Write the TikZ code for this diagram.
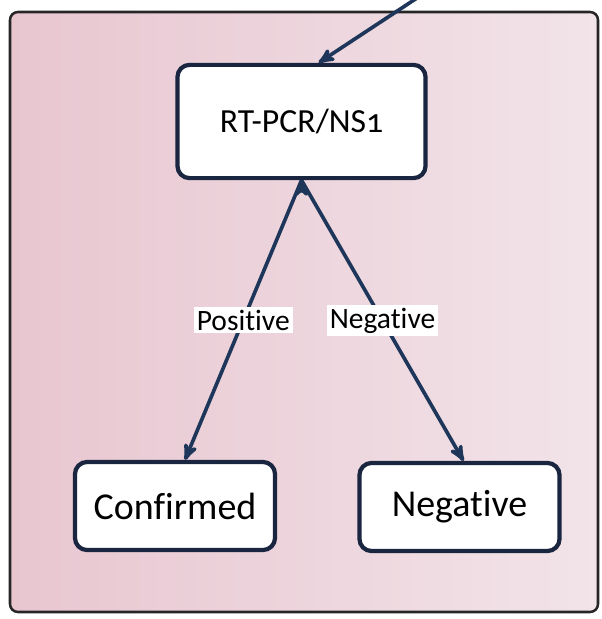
\documentclass[tikz,border=0pt]{standalone}
\usepackage{fontspec}
\setmainfont{Carlito}[Ligatures=NoCommon]
\usepackage{tikz}
\usetikzlibrary{arrows}

\definecolor{boxline}{HTML}{1A2540}
\definecolor{arrowblue}{HTML}{1E365A}
\definecolor{bgpink}{HTML}{E8C6D0}
\definecolor{bglight}{HTML}{F2E4E9}

\begin{document}
\begin{tikzpicture}
	[x=0.025cm,y=-0.025cm,->,>=stealth',
		test node/.style={draw=boxline,line width=3pt,rounded corners=0.3cm,fill=white,font=\fontsize{24}{28}\selectfont,minimum width=6.2cm,minimum height=2.83cm},
		result node/.style={draw=boxline,line width=3pt,rounded corners=0.3cm,fill=white,font=\fontsize{27}{32}\selectfont,minimum width=5cm,minimum height=2.2cm},
		branch label/.style={fill=white,inner sep=2pt,font=\fontsize{21}{25}\selectfont,text=black},
		flow/.style={draw=arrowblue,line width=2.6pt}]

	\useasboundingbox (0,0) rectangle (602,619);
	\path[-,left color=bgpink,right color=bglight,draw=black!85,line width=1.8pt,rounded corners=0.2cm]
		(10,12) rectangle (598,612);

	\node[test node]    (rt)   at (301.5,121.5) {RT-PCR/NS{\addfontfeatures{Numbers=OldStyle}1}};
	\node[result node]  (conf) at (175,506)     {Confirmed};
	\node[result node]  (neg)  at (459.5,507)   {Negative};
	\coordinate (top) at (417,-2);

	\path[flow]
	(top) edge ([xshift=0.43cm]rt.north)
	(rt.south) edge node[branch label] {Positive} ([xshift=0.25cm]conf.north)
	(rt.south) edge node[branch label] {Negative} ([xshift=0.1cm]neg.north)
	;

\end{tikzpicture}
\end{document}
